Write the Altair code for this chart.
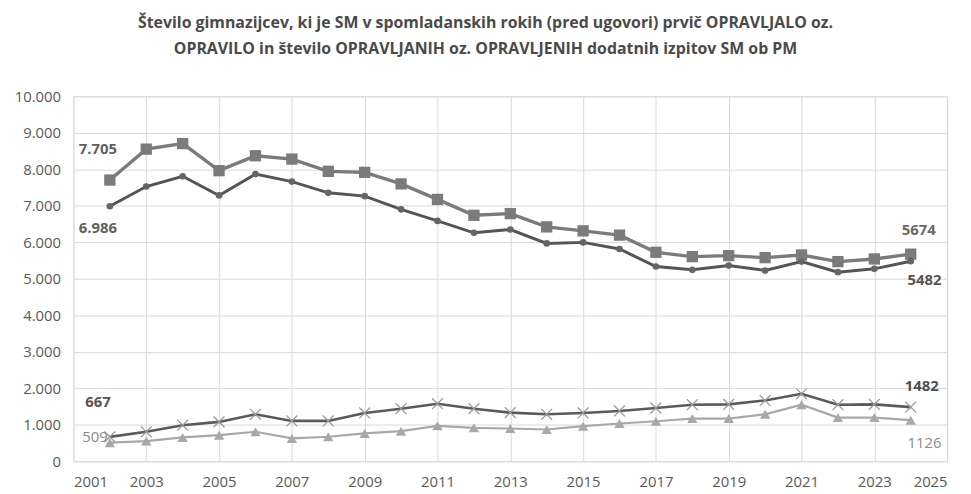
import altair as alt
import pandas as pd

years = list(range(2002, 2025))

opravljalo = [7705, 8552, 8704, 7962, 8370, 8280, 7944, 7916, 7600, 7174, 6739, 6785,
              6421, 6313, 6196, 5725, 5606, 5634, 5579, 5652, 5470, 5543, 5674]
opravilo = [6986, 7527, 7808, 7283, 7871, 7663, 7355, 7264, 6902, 6585, 6259, 6350,
            5969, 5997, 5815, 5335, 5245, 5362, 5226, 5471, 5181, 5272, 5482]
opravljanih = [667, 807, 987, 1078, 1286, 1105, 1105, 1323, 1440, 1576, 1440, 1332,
               1286, 1323, 1377, 1459, 1549, 1558, 1666, 1848, 1549, 1558, 1482]
opravljenih = [509, 552, 652, 715, 807, 625, 670, 761, 823, 970, 916, 897,
               870, 960, 1033, 1096, 1168, 1168, 1286, 1549, 1196, 1196, 1126]

series_names = ["OPRAVLJALO", "OPRAVILO", "OPRAVLJANIH", "OPRAVLJENIH"]
series_values = [opravljalo, opravilo, opravljanih, opravljenih]
series_colors = ["#7b7b7b", "#555555", "#5a5a5a", "#a8a8a8"]
series_widths = [3.4, 2.2, 3.2, 3.4]

rows = []
for name, vals in zip(series_names, series_values):
    for y, v in zip(years, vals):
        rows.append({"leto": y, "vrednost": v, "serija": name})
df = pd.DataFrame(rows)

x_ticks = list(range(2001, 2026, 2))
y_ticks = list(range(0, 10001, 1000))

x = alt.X("leto:Q", scale=alt.Scale(domain=[2001, 2025], nice=False, zero=False),
          axis=alt.Axis(values=x_ticks, format="d", title=None, grid=True, ticks=False,
                        domain=False, labelFontSize=15, labelColor="#595959",
                        labelFont="Open Sans", labelPadding=13, gridColor="#d9d9d9"))
y = alt.Y("vrednost:Q", scale=alt.Scale(domain=[0, 10000], nice=False),
          axis=alt.Axis(values=y_ticks, title=None, grid=True, ticks=False, domain=False,
                        labelExpr="replace(format(datum.value, ',d'), ',', '.')",
                        labelFontSize=15, labelColor="#595959", labelFont="Open Sans",
                        labelPadding=13, gridColor="#d9d9d9"))

color = alt.Color("serija:N", scale=alt.Scale(domain=series_names, range=series_colors), legend=None)
sw = alt.StrokeWidth("serija:N", scale=alt.Scale(domain=series_names, range=series_widths), legend=None)

base = alt.Chart(df)
lines = base.mark_line().encode(x=x, y=y, color=color, strokeWidth=sw, detail="serija:N")

squares = base.transform_filter(alt.datum.serija == "OPRAVLJALO").mark_point(
    shape="square", filled=True, size=130, color="#7b7b7b", opacity=1).encode(x=x, y=y)
circles = base.transform_filter(alt.datum.serija == "OPRAVILO").mark_point(
    shape="circle", filled=True, size=45, color="#666666", opacity=1).encode(x=x, y=y)
crosses = base.transform_filter(alt.datum.serija == "OPRAVLJANIH").mark_point(
    shape="M-1,-1L1,1M-1,1L1,-1", filled=False, size=120, color="#9a9a9a",
    strokeWidth=1.3, opacity=1).encode(x=x, y=y)
triangles = base.transform_filter(alt.datum.serija == "OPRAVLJENIH").mark_point(
    shape="triangle-up", filled=True, size=110, color="#a8a8a8", opacity=1).encode(x=x, y=y)

label_specs = [
    ("OPRAVLJALO", 2002, "7.705", -12, -31, "bold", "#606060"),
    ("OPRAVILO", 2002, "6.986", -12, 22, "bold", "#606060"),
    ("OPRAVLJALO", 2024, "5674", 8, -24, "bold", "#6a6a6a"),
    ("OPRAVILO", 2024, "5482", 14, 19, "bold", "#555555"),
    ("OPRAVLJANIH", 2002, "667", -12, -35, "bold", "#555555"),
    ("OPRAVLJENIH", 2002, "509", -15, -6, "normal", "#8a8a8a"),
    ("OPRAVLJANIH", 2024, "1482", 11, -21, "bold", "#505050"),
    ("OPRAVLJENIH", 2024, "1126", 14, 23, "normal", "#8a8a8a"),
]
labels = []
for ser, yr, txt, dx, dy, fw, col in label_specs:
    labels.append(
        base.transform_filter((alt.datum.serija == ser) & (alt.datum.leto == yr))
        .mark_text(dx=dx, dy=dy, fontSize=15, fontWeight=fw, color=col, font="Open Sans")
        .encode(x=x, y=y, text=alt.value(txt))
    )

chart = alt.layer(lines, squares, circles, crosses, triangles, *labels).properties(
    width=881, height=368,
    title=alt.Title(
        ["Število gimnazijcev, ki je SM v spomladanskih  rokih (pred ugovori) prvič OPRAVLJALO oz.",
         "OPRAVILO in število OPRAVLJANIH oz. OPRAVLJENIH dodatnih  izpitov SM ob PM"],
        fontSize=16, fontWeight="bold", color="#4a4a4a", font="Open Sans", anchor="middle",
        offset=33, lineHeight=26, dx=-25),
    autosize=alt.AutoSizeParams(type="none"),
    padding={"left": 66, "top": 87, "right": 16, "bottom": 30},
).configure_view(stroke=None).configure(background="white")

chart.save("out.html", embed_options={"renderer": "svg", "actions": False})
